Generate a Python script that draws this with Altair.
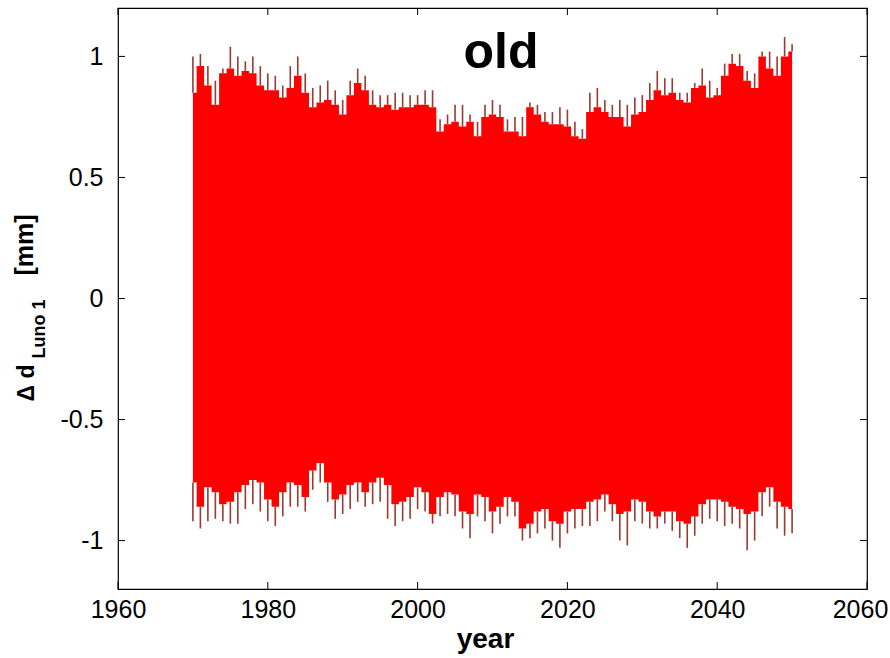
import altair as alt
import pandas as pd

# --- data (yearly envelope of the dense oscillation) ---
years = list(range(1970, 2051))

top_fill = [0.85, 0.96, 0.88, 0.80, 0.93, 0.95, 0.92, 0.94, 0.93, 0.88,
            0.86, 0.86, 0.83, 0.87, 0.92, 0.85, 0.79, 0.81, 0.82, 0.80,
            0.76, 0.84, 0.89, 0.86, 0.80, 0.79, 0.80, 0.78, 0.79, 0.79,
            0.80, 0.80, 0.79, 0.69, 0.72, 0.73, 0.71, 0.73, 0.67, 0.75,
            0.76, 0.75, 0.69, 0.69, 0.67, 0.79, 0.76, 0.73, 0.72, 0.72,
            0.71, 0.67, 0.66, 0.77, 0.79, 0.77, 0.75, 0.75, 0.71, 0.76,
            0.77, 0.82, 0.86, 0.84, 0.85, 0.82, 0.81, 0.87, 0.88, 0.83,
            0.84, 0.92, 0.97, 0.96, 0.90, 0.87, 1.00, 0.95, 0.92, 1.00,
            1.02]
top_peak = [1.00, 1.01, 0.96, 0.90, 0.95, 1.04, 1.00, 0.98, 1.00, 0.96,
            0.93, 0.92, 0.88, 0.96, 1.00, 0.93, 0.87, 0.88, 0.90, 0.86,
            0.82, 0.90, 0.95, 0.92, 0.86, 0.84, 0.84, 0.85, 0.85, 0.84,
            0.84, 0.86, 0.86, 0.74, 0.76, 0.80, 0.80, 0.76, 0.73, 0.80,
            0.82, 0.80, 0.74, 0.75, 0.75, 0.81, 0.80, 0.77, 0.77, 0.79,
            0.78, 0.73, 0.70, 0.85, 0.87, 0.82, 0.80, 0.82, 0.80, 0.83,
            0.84, 0.89, 0.94, 0.91, 0.91, 0.85, 0.85, 0.89, 0.95, 0.90,
            0.87, 0.97, 1.01, 1.01, 0.94, 0.93, 1.02, 1.02, 1.00, 1.08,
            1.05]
low_fill = [-0.76, -0.86, -0.78, -0.80, -0.85, -0.84, -0.80, -0.77, -0.75, -0.76,
            -0.83, -0.86, -0.80, -0.76, -0.77, -0.82, -0.71, -0.68, -0.76, -0.83,
            -0.81, -0.77, -0.76, -0.80, -0.76, -0.74, -0.77, -0.85, -0.84, -0.82,
            -0.78, -0.80, -0.89, -0.82, -0.80, -0.81, -0.88, -0.89, -0.81, -0.82,
            -0.88, -0.86, -0.82, -0.84, -0.95, -0.93, -0.88, -0.87, -0.92, -0.93,
            -0.88, -0.87, -0.87, -0.84, -0.83, -0.81, -0.85, -0.89, -0.88, -0.83,
            -0.84, -0.88, -0.90, -0.88, -0.88, -0.92, -0.93, -0.90, -0.85, -0.83,
            -0.83, -0.84, -0.86, -0.87, -0.89, -0.88, -0.80, -0.78, -0.84, -0.86,
            -0.87]
low_peak = [-0.92, -0.95, -0.92, -0.91, -0.92, -0.93, -0.93, -0.87, -0.85, -0.88,
            -0.92, -0.94, -0.90, -0.86, -0.86, -0.88, -0.79, -0.76, -0.84, -0.91,
            -0.89, -0.87, -0.84, -0.86, -0.85, -0.84, -0.91, -0.94, -0.92, -0.91,
            -0.87, -0.88, -0.93, -0.90, -0.89, -0.90, -0.95, -0.99, -0.90, -0.92,
            -0.97, -0.93, -0.90, -0.90, -1.00, -0.99, -0.97, -0.95, -1.00, -1.03,
            -0.97, -0.95, -0.94, -0.94, -0.92, -0.88, -0.92, -1.00, -1.02, -0.92,
            -0.93, -0.95, -0.95, -0.93, -0.96, -0.99, -1.03, -0.98, -0.93, -0.91,
            -0.92, -0.94, -0.93, -0.95, -1.04, -1.00, -0.90, -0.86, -0.95, -0.98,
            -0.97]

x_ticks = [1960, 1980, 2000, 2020, 2040, 2060]
y_ticks = [-1, -0.5, 0, 0.5, 1]
title_text = "old"
x_title = "year"

W, H = 749, 581
FONT = "Liberation Sans"

df = pd.DataFrame({"year": years, "top_fill": top_fill, "top_peak": top_peak,
                   "low_fill": low_fill, "low_peak": low_peak})
xt = pd.DataFrame({"t": x_ticks})
yt = pd.DataFrame({"t": y_ticks})

xscale = alt.Scale(domain=[1960, 2060], nice=False, zero=False)
yscale = alt.Scale(domain=[-1.2, 1.2], nice=False, zero=False)

xaxis = alt.Axis(values=x_ticks, format="d", ticks=False, domain=False, grid=False,
                 labelFontSize=25, labelFont=FONT, labelColor="black", labelPadding=8,
                 labelFlush=False, labelOverlap=False,
                 labelOffset={"condition": {"test": "datum.value == 2060", "value": -7},
                              "value": 0},
                 title=x_title, titleFont=FONT, titleFontSize=28, titleFontWeight="bold",
                 titleColor="black", titlePadding=3, titleX=367, titleAlign="center")
yaxis = alt.Axis(values=y_ticks, labelExpr="'' + datum.value", ticks=False, domain=False,
                 grid=False, labelFontSize=25, labelFont=FONT, labelColor="black",
                 labelPadding=15, labelFlush=False, title=None)

base = alt.Chart(df)

band = base.mark_area(color="#ff0000", interpolate="step").encode(
    x=alt.X("year:Q", scale=xscale, axis=xaxis),
    y=alt.Y("low_fill:Q", scale=yscale, axis=yaxis),
    y2="top_fill:Q",
)
spike_col = "#9a3a32"
top_sp = base.mark_rule(color=spike_col, strokeWidth=1.6).encode(
    x="year:Q", y="top_fill:Q", y2="top_peak:Q")
low_sp = base.mark_rule(color=spike_col, strokeWidth=1.6).encode(
    x="year:Q", y="low_fill:Q", y2="low_peak:Q")

# inward ticks on all four sides
tb = alt.Chart(xt).mark_rule(color="black", strokeWidth=1).encode(
    x="t:Q", y=alt.value(H), y2=alt.value(H - 7))
tt = alt.Chart(xt).mark_rule(color="black", strokeWidth=1).encode(
    x="t:Q", y=alt.value(0), y2=alt.value(7))
tl = alt.Chart(yt).mark_rule(color="black", strokeWidth=1).encode(
    y="t:Q", x=alt.value(0), x2=alt.value(7))
tr = alt.Chart(yt).mark_rule(color="black", strokeWidth=1).encode(
    y="t:Q", x=alt.value(W), x2=alt.value(W - 7))

title_mark = alt.Chart(pd.DataFrame({"s": [title_text]})).mark_text(
    font=FONT, fontSize=50, fontWeight="bold", color="black",
    align="center", baseline="alphabetic").encode(
    text="s:N", x=alt.value(383), y=alt.value(60))

ylab_text = ["\u0394 d", "Luno 1", "[mm]"]
ylab_x = [-91, -78, -93]
ylab_y = [375, 321, 237]
ylab_fs = [23, 18, 25]
ylab_marks = []
for s, xp, yp, fs in zip(ylab_text, ylab_x, ylab_y, ylab_fs):
    ylab_marks.append(
        alt.Chart(pd.DataFrame({"s": [s]})).mark_text(
            font=FONT, fontSize=fs, fontWeight="bold", color="black",
            angle=270, align="center", baseline="middle").encode(
            text="s:N", x=alt.value(xp), y=alt.value(yp))
    )

chart = alt.layer(band, top_sp, low_sp, tb, tt, tl, tr, title_mark, *ylab_marks).properties(
    width=W, height=H,
    autosize=alt.AutoSizeParams(type="none"),
    padding={"left": 118, "top": 8, "right": 23, "bottom": 69},
    background="white",
).configure_view(stroke="black", strokeWidth=1.2)

chart.save("out.html", embed_options={"renderer": "svg", "actions": False})
